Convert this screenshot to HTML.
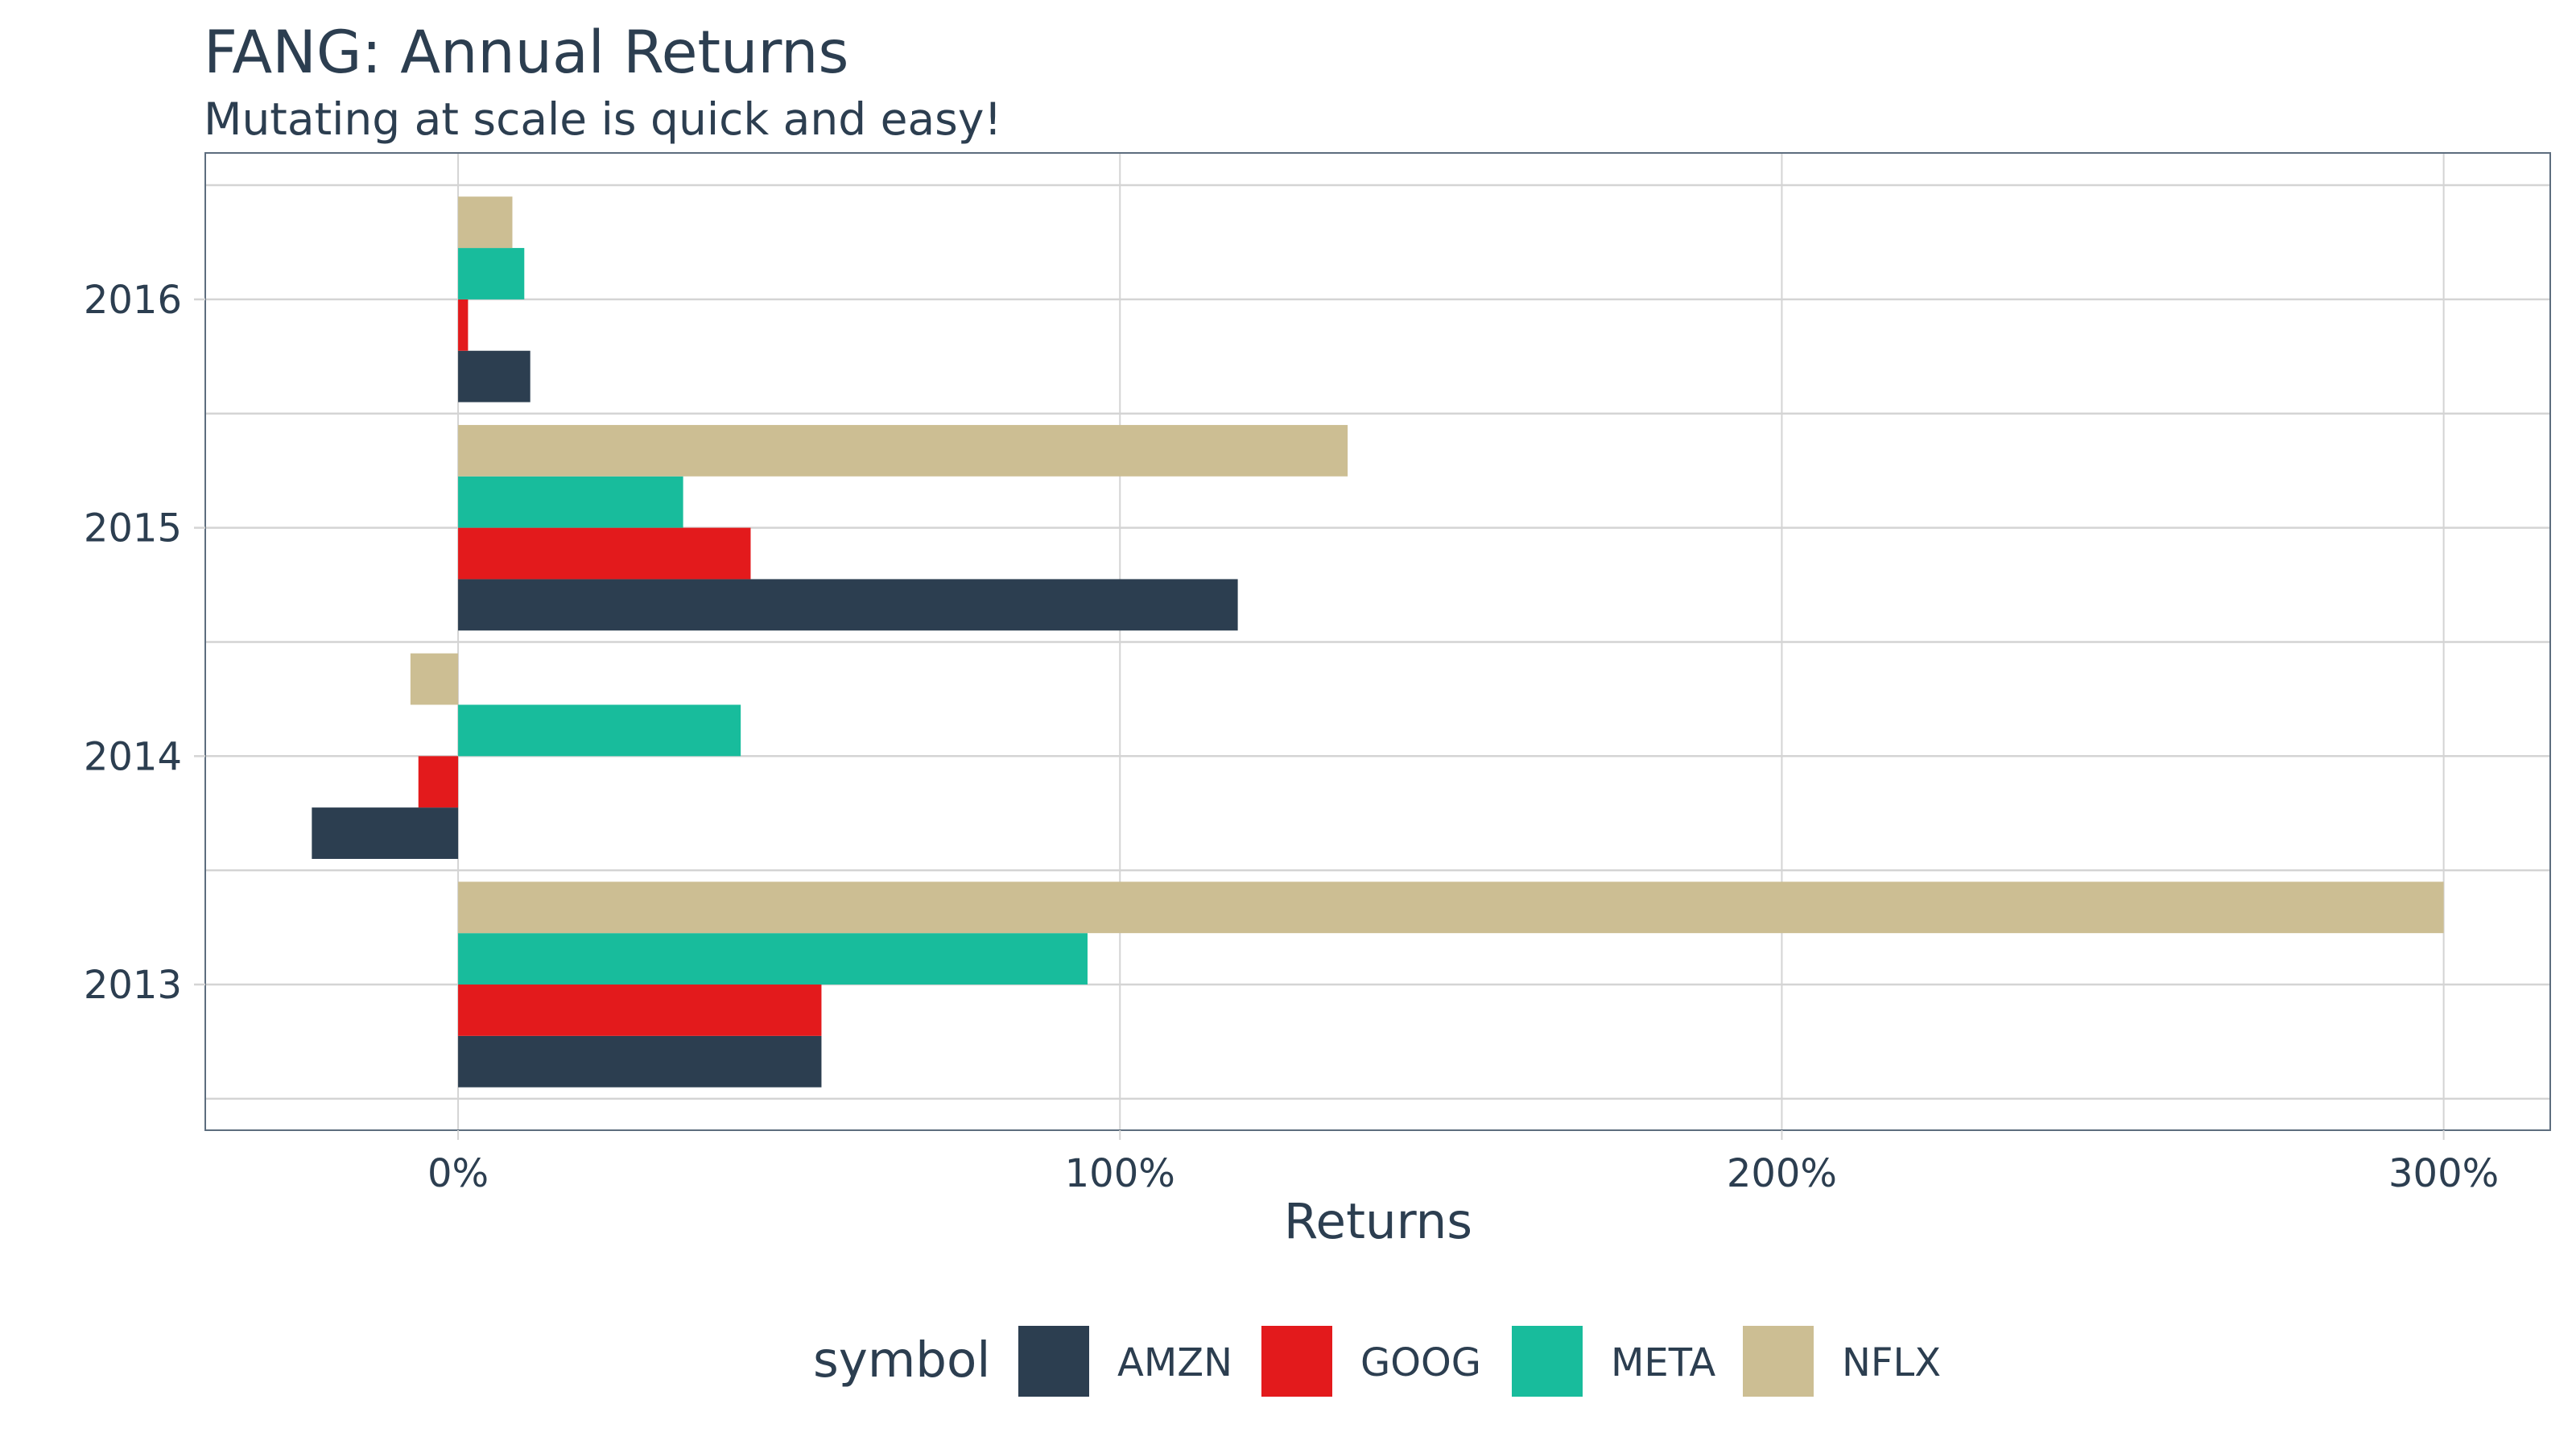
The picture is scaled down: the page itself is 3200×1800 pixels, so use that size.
<!DOCTYPE html>
<html><head><meta charset="utf-8"><style>
html,body{margin:0;padding:0;background:#fff;}
svg{display:block;font-family:"DejaVu Sans","Liberation Sans",sans-serif;}
</style></head><body>
<svg id="chart" width="3200" height="1800" viewBox="0 0 3200 1800" xmlns="http://www.w3.org/2000/svg">
<text x="253" y="90" font-size="73" fill="#2c3e50">FANG: Annual Returns</text>
<text x="253" y="167" font-size="55" fill="#2c3e50">Mutating at scale is quick and easy!</text>
<g id="grid"></g>
<g id="bars"></g>
<rect x="255" y="190" width="2913" height="1214" fill="none" stroke="#5d6d7e" stroke-width="2"/>
<g id="yaxis"></g>
<g id="xaxis"></g>
<text x="1712" y="1538" font-size="61" fill="#2c3e50" text-anchor="middle">Returns</text>
<g id="legend">
<text x="1010" y="1710" font-size="61" fill="#2c3e50">symbol</text>
</g>
</svg>
<script>
const years = ["2013","2014","2015","2016"];
const symbols = ["AMZN","GOOG","META","NFLX"];
const colors = ["#2c3e50","#e31a1c","#18bc9c","#ccbe93"];
const amzn = [54.9, -22.1, 117.8, 10.9];
const goog = [54.9, -6.0, 44.2, 1.5];
const meta = [95.1, 42.7, 34.0, 10.0];
const nflx = [300.0, -7.2, 134.4, 8.2];
const xTicks = [0, 100, 200, 300];
const xTickLabels = ["0%","100%","200%","300%"];

const series = [amzn, goog, meta, nflx];
const NS = "http://www.w3.org/2000/svg";
const panel = {l:255, r:3168, t:190, b:1404};
const xmin = -38.2, xmax = 316.1;
function xs(v){ return panel.l + (v - xmin) / (xmax - xmin) * (panel.r - panel.l); }
const ypos0 = 1223, ystep = 283.7;
function ys(i){ return ypos0 - i * ystep; }
function mk(tag, attrs, parent){ const e=document.createElementNS(NS,tag); for(const k in attrs) e.setAttribute(k,attrs[k]); parent.appendChild(e); return e; }

const grid = document.getElementById('grid');
for(let i=0;i<=years.length;i++){
  const y = ys(i) + ystep/2;
  const l = mk('line',{x1:panel.l,x2:panel.r,y1:y,y2:y,stroke:'#d4d4d4','stroke-width':2.5},grid);
  
  
}
years.forEach((yr,i)=>{
  const y = ys(i);
  const l = mk('line',{x1:panel.l,x2:panel.r,y1:y,y2:y,stroke:'#d4d4d4','stroke-width':2.5},grid);
  
  
});
xTicks.forEach((t,i)=>{
  const x = xs(t);
  const l = mk('line',{x1:x,x2:x,y1:panel.t,y2:panel.b,stroke:'#d4d4d4','stroke-width':2},grid);
  
  
});

const bars = document.getElementById('bars');
const groupW = ystep*0.9, barH = groupW/4;
years.forEach((yr,i)=>{
  series.forEach((s,j)=>{
    const v = s[i];
    const yTop = ys(i) + groupW/2 - (j+1)*barH;
    const x0 = xs(Math.min(0,v)), x1 = xs(Math.max(0,v));
    const r = mk('rect',{x:x0,y:yTop,width:Math.max(0,x1-x0),height:barH,fill:colors[j]},bars);
    
    
  });
});

const yaxis = document.getElementById('yaxis');
years.forEach((yr,i)=>{
  const y = ys(i);
  const tk = mk('line',{x1:panel.l-14,x2:panel.l,y1:y,y2:y,stroke:'#d4d4d4','stroke-width':2.5},yaxis);
  
  
  const t = mk('text',{x:226,y:y+17,'font-size':48,fill:'#2c3e50','text-anchor':'end'},yaxis);
  t.textContent = yr;
  
  
});
const xaxis = document.getElementById('xaxis');
xTicks.forEach((v,i)=>{
  const x = xs(v);
  const tk = mk('line',{x1:x,x2:x,y1:panel.b,y2:panel.b+12,stroke:'#d4d4d4','stroke-width':2},xaxis);
  
  
  const t = mk('text',{x:x,y:1474,'font-size':48,fill:'#2c3e50','text-anchor':'middle'},xaxis);
  t.textContent = xTickLabels[i];
  
  
});

const legend = document.getElementById('legend');
const keyX = [1265, 1567, 1878, 2165];
symbols.forEach((s,j)=>{
  const g = mk('g',{},legend);
  
  
  const r = mk('rect',{x:keyX[j],y:1647,width:88,height:88,fill:colors[j]},g);
  
  
  const t = mk('text',{x:keyX[j]+123,y:1709,'font-size':48,fill:'#2c3e50'},g);
  t.textContent = s;
  
  
});
</script>
</body></html>
